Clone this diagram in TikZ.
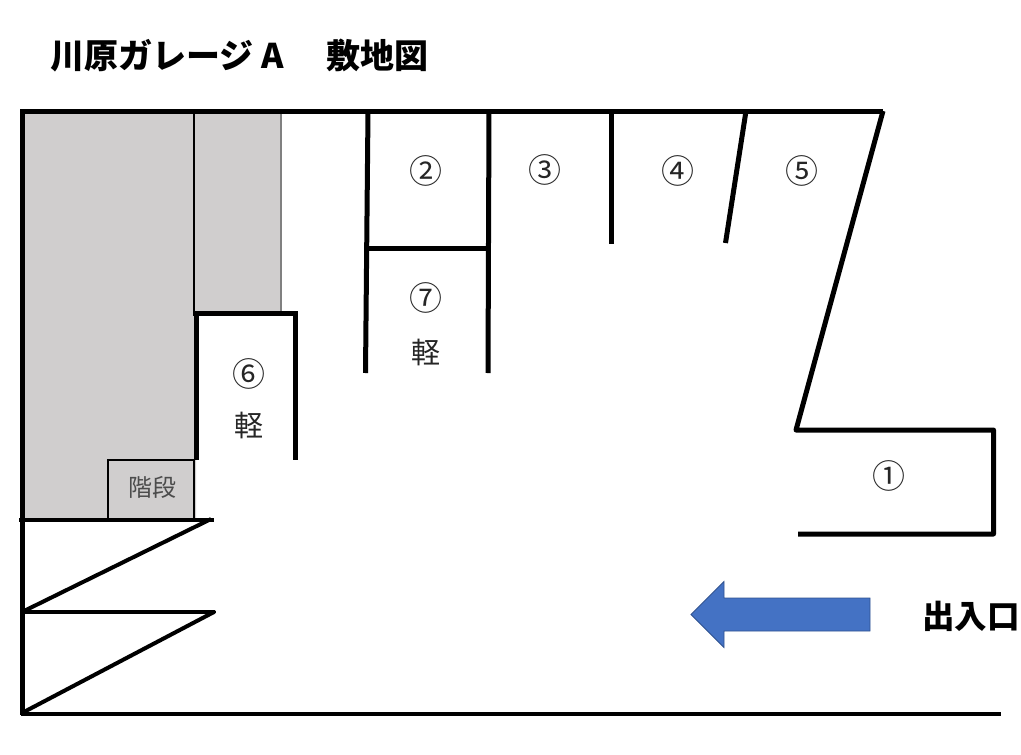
\documentclass[tikz,border=0pt]{standalone}
\usepackage{fontspec}
\newfontfamily\cjk{Noto Sans CJK JP}
\definecolor{roomgray}{HTML}{D0CECE}
\definecolor{arrowblue}{HTML}{4472C4}
\definecolor{arrowedge}{HTML}{2F528F}
\tikzset{
    wall/.style={line width=5pt},
    thinwall/.style={line width=1.5pt},
    number/.style={font=\cjk\fontsize{33}{33}\selectfont,text=black!85},
    kei/.style={font=\cjk\fontsize{29}{29}\selectfont,text=black!85},
    heading/.style={font=\cjk\bfseries\fontsize{32.5}{32.5}\selectfont,anchor=west,inner sep=0pt},
}
\begin{document}
\begin{tikzpicture}[x=1pt,y=-1pt]
        \useasboundingbox (0,0) rectangle (1021,755);

        % building
        \fill[roomgray] (22,111) -- (281,111) -- (281,313) -- (196,313) -- (196,520) -- (22,520) -- cycle;
        \draw[thinwall] (194,111) -- (194,316);
        \draw[thinwall,black!50] (281,111) -- (281,313);
        \draw[thinwall] (108,520) -- (108,460) -- (194,460) -- (194,520);
        \node[font=\cjk\fontsize{24}{24}\selectfont,text=black!70] (stairs) at (152,487) {階段};

        % outline
        \draw[wall] (883,111.5) -- (20,111.5);
        \draw[wall] (22.5,109) -- (22.5,715);
        \draw[wall,line join=round] (883,111) -- (796,430) -- (993.5,430) -- (993.5,534) -- (798,534);
        \draw[line width=4pt] (21,713.5) -- (1001,713.5);

        % parking slots
        \draw[wall] (368,111) -- (365.5,373);
        \draw[wall] (489,111) -- (488,373);
        \draw[wall] (366,248) -- (489,248);
        \draw[wall] (611.5,111) -- (611.5,244);
        \draw[wall] (746,111) -- (725.5,243);
        \draw[wall] (196.5,460) -- (196.5,313.5) -- (295.5,313.5) -- (295.5,460);

        % stairs at the lower left
        \draw[line width=4pt] (19,519.5) -- (214,519.5);
        \draw[line width=4pt] (211,519) -- (22,612);
        \draw[line width=4pt] (22,612) -- (215,612);
        \draw[line width=4pt,line cap=round] (214,612) -- (22,713);

        % entrance arrow
        \draw[fill=arrowblue,draw=arrowedge,line width=0.8pt] (691,614.5) -- (724,581.5) -- (724,598) -- (870,598)
            -- (870,631) -- (724,631) -- (724,647.5) -- cycle;

        \node[number] (one) at (888.5,475.5) {①};
        \node[number] (two) at (426,171) {②};
        \node[number] (three) at (545,169.5) {③};
        \node[number] (four) at (678,171) {④};
        \node[number] (five) at (802,171) {⑤};
        \node[number] (six) at (249,374) {⑥};
        \node[kei] (keisix) at (249,425) {軽};
        \node[number] (seven) at (426,298) {⑦};
        \node[kei] (keiseven) at (426,352) {軽};

        \node[heading,font=\cjk\bfseries\fontsize{34}{34}\selectfont] (title) at (50,56) {川原ガレージ\hspace{8pt}A\hspace{9pt}　敷地図};
        \node[heading] (gate) at (922,616) {出入口};
\end{tikzpicture}
\end{document}
